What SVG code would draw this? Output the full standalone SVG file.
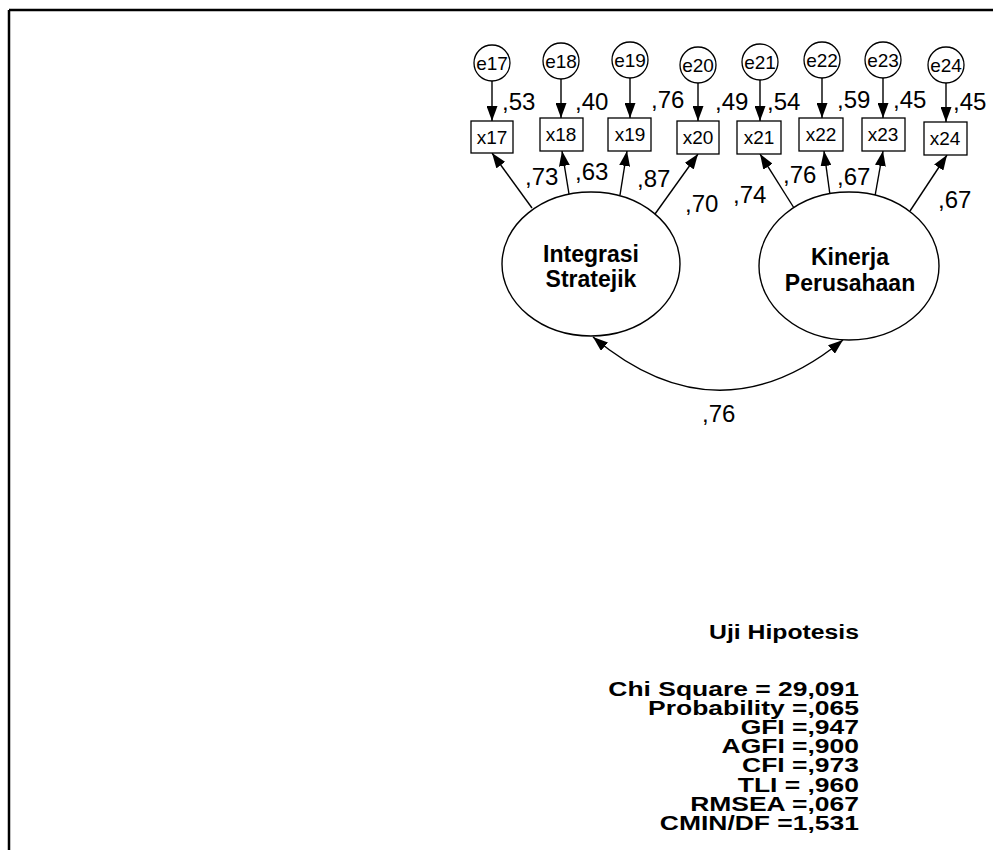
<svg xmlns="http://www.w3.org/2000/svg" width="993" height="850" viewBox="0 0 993 850">
<style>
text{font-family:"Liberation Sans",Arial,sans-serif;fill:#000}
.lbl{font-size:24px}
.box{fill:#fff;stroke:#000;stroke-width:1.3}
.err{fill:#fff;stroke:#000;stroke-width:1.3}
.bt{font-size:19px;text-anchor:middle}
.et{font-size:19px;text-anchor:middle}
.lat{fill:#fff;stroke:#000;stroke-width:1.4}
.lt{font-size:23px;font-weight:bold;text-anchor:middle}
.st{font-size:21px;font-weight:bold;text-anchor:end}
.c{stroke:#000;stroke-width:1.4;fill:none;marker-end:url(#ah)}
</style>
<defs>
<marker id="ah" markerUnits="userSpaceOnUse" markerWidth="15" markerHeight="11" refX="15" refY="5.5" orient="auto-start-reverse">
<path d="M0,0 L15,5.5 L0,11 z" fill="#000"/>
</marker>
</defs>
<rect width="993" height="850" fill="#fff"/>
<g id="frame" stroke="#000" stroke-width="2.5" fill="none">
<line x1="9" y1="10" x2="993" y2="10"/>
<line x1="9" y1="10" x2="9" y2="850"/>
</g>
<g id="connectors">
<line class="c" x1="492" y1="81" x2="492" y2="121"/>
<line class="c" x1="561" y1="79" x2="561" y2="118"/>
<line class="c" x1="630" y1="78" x2="630" y2="118"/>
<line class="c" x1="698" y1="83" x2="698" y2="121"/>
<line class="c" x1="760" y1="80" x2="760" y2="121"/>
<line class="c" x1="822" y1="78" x2="822" y2="118"/>
<line class="c" x1="883" y1="78" x2="883" y2="118"/>
<line class="c" x1="946" y1="83" x2="946" y2="122"/>
<line class="c" x1="532" y1="208" x2="492" y2="153"/>
<line class="c" x1="569" y1="194" x2="562" y2="151"/>
<line class="c" x1="620" y1="195" x2="627" y2="151"/>
<line class="c" x1="655" y1="214" x2="698" y2="154"/>
<line class="c" x1="794" y1="208" x2="760" y2="154"/>
<line class="c" x1="830" y1="195" x2="824" y2="151"/>
<line class="c" x1="875" y1="196" x2="883" y2="151"/>
<line class="c" x1="910" y1="211" x2="947" y2="155"/>
<path class="c" d="M593,337 Q718,442 843,340" style="marker-start:url(#ah)"/>
</g>
<g id="e17"><circle class="err" cx="492" cy="63" r="18"/><text class="et" x="492" y="70">e17</text></g>
<g id="e18"><circle class="err" cx="561" cy="61" r="18"/><text class="et" x="561" y="68">e18</text></g>
<g id="e19"><circle class="err" cx="630" cy="60" r="18"/><text class="et" x="630" y="67">e19</text></g>
<g id="e20"><circle class="err" cx="698" cy="65" r="18"/><text class="et" x="698" y="72">e20</text></g>
<g id="e21"><circle class="err" cx="760" cy="62" r="18"/><text class="et" x="760" y="69">e21</text></g>
<g id="e22"><circle class="err" cx="822" cy="60" r="18"/><text class="et" x="822" y="67">e22</text></g>
<g id="e23"><circle class="err" cx="883" cy="60" r="18"/><text class="et" x="883" y="67">e23</text></g>
<g id="e24"><circle class="err" cx="946" cy="65" r="18"/><text class="et" x="946" y="72">e24</text></g>
<g id="x17"><rect class="box" x="471" y="121" width="42" height="32"/><text class="bt" x="492" y="144">x17</text></g>
<g id="x18"><rect class="box" x="540" y="118" width="43" height="33"/><text class="bt" x="561" y="141">x18</text></g>
<g id="x19"><rect class="box" x="608" y="118" width="43" height="33"/><text class="bt" x="630" y="141">x19</text></g>
<g id="x20"><rect class="box" x="677" y="121" width="42" height="33"/><text class="bt" x="698" y="144">x20</text></g>
<g id="x21"><rect class="box" x="737" y="121" width="44" height="33"/><text class="bt" x="759" y="144">x21</text></g>
<g id="x22"><rect class="box" x="799" y="118" width="44" height="33"/><text class="bt" x="821" y="141">x22</text></g>
<g id="x23"><rect class="box" x="862" y="118" width="43" height="33"/><text class="bt" x="883" y="141">x23</text></g>
<g id="x24"><rect class="box" x="924" y="122" width="43" height="33"/><text class="bt" x="945" y="145">x24</text></g>
<g id="integrasi"><ellipse class="lat" cx="591" cy="264" rx="89" ry="72"/><text class="lt" x="591" y="262">Integrasi</text><text class="lt" x="591" y="287">Stratejik</text></g>
<g id="kinerja"><ellipse class="lat" cx="849" cy="266" rx="90" ry="74"/><text class="lt" x="850" y="265">Kinerja</text><text class="lt" x="850" y="291">Perusahaan</text></g>
<g id="labels">
<text class="lbl" x="502" y="110">,53</text>
<text class="lbl" x="575" y="110">,40</text>
<text class="lbl" x="651" y="108">,76</text>
<text class="lbl" x="715" y="110">,49</text>
<text class="lbl" x="767" y="110">,54</text>
<text class="lbl" x="837" y="108">,59</text>
<text class="lbl" x="893" y="108">,45</text>
<text class="lbl" x="953" y="110">,45</text>
<text class="lbl" x="525" y="185">,73</text>
<text class="lbl" x="575" y="180">,63</text>
<text class="lbl" x="637" y="187">,87</text>
<text class="lbl" x="685" y="212">,70</text>
<text class="lbl" x="733" y="203">,74</text>
<text class="lbl" x="783" y="183">,76</text>
<text class="lbl" x="837" y="185">,67</text>
<text class="lbl" x="938" y="208">,67</text>
<text class="lbl" x="702" y="422">,76</text>
</g>
<g id="stats">
<text class="st" x="0" y="639" transform="translate(859,0) scale(1.18,1)">Uji Hipotesis</text>
<g transform="translate(859,0) scale(1.26,1)">
<text class="st" x="0" y="696">Chi Square = 29,091</text>
<text class="st" x="0" y="715">Probability =,065</text>
<text class="st" x="0" y="734">GFI =,947</text>
<text class="st" x="0" y="753">AGFI =,900</text>
<text class="st" x="0" y="772">CFI =,973</text>
<text class="st" x="0" y="792">TLI = ,960</text>
<text class="st" x="0" y="811">RMSEA =,067</text>
<text class="st" x="0" y="830">CMIN/DF =1,531</text>
</g>
</g>
</svg>
